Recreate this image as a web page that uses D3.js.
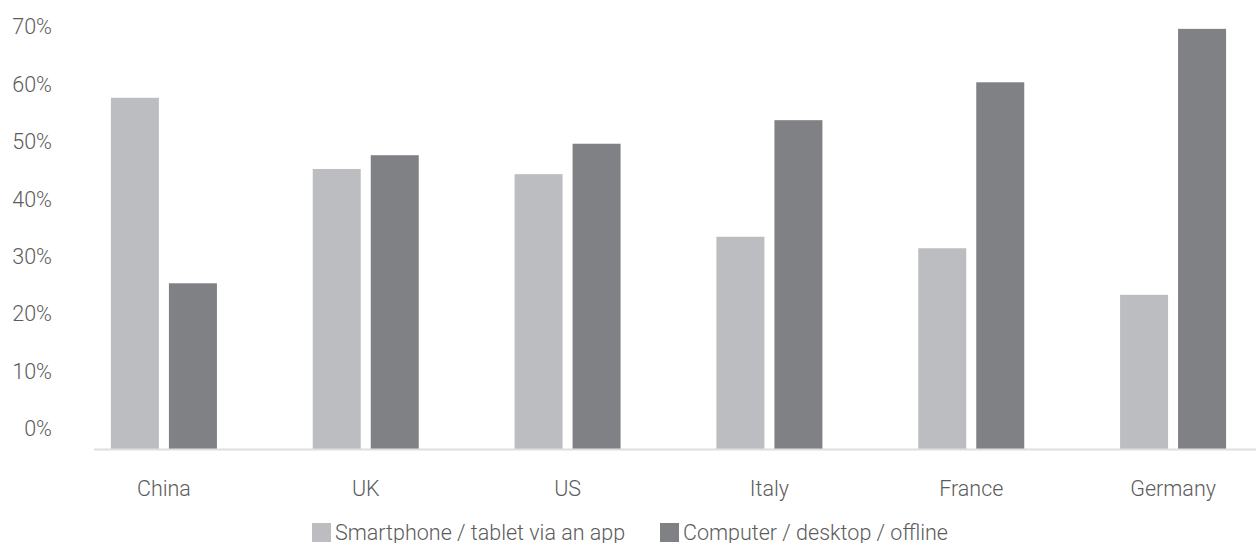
<!DOCTYPE html>
<html>
<head>
<meta charset="utf-8">
<script src="https://cdn.jsdelivr.net/npm/d3@7"></script>
<style>
  html, body { margin: 0; padding: 0; background: #fff; }
  svg { display: block; }
  text { font-family: Roboto, "Noto Sans", sans-serif; font-weight: 300; fill: #5c5c5c; }
</style>
</head>
<body>
<div id="chart"></div>
<script>
// Share of purchases by device, per country
const categories = ["China", "UK", "US", "Italy", "France", "Germany"];
const seriesNames = ["Smartphone / tablet via an app", "Computer / desktop / offline"];
const smartphone = [57.5, 45.1, 44.2, 33.3, 31.3, 23.2];
const computer   = [25.2, 47.5, 49.5, 53.6, 60.2, 69.5];
const tickValues = [0, 10, 20, 30, 40, 50, 60, 70];
const colors = ["#bcbdc0", "#808184"];

const W = 1256, H = 543;
const FONT = "21.5px";
const svg = d3.select("#chart").append("svg")
  .attr("width", W).attr("height", H);

// value -> vertical position (tick label rows)
const y = d3.scaleLinear().domain([0, 70]).range([428, 26]);
const baseY = 449.5; // category axis line

const x0 = d3.scaleBand().domain(categories).range([63, 1274]);
const barW = 48, gap = 10;
const x1 = d3.scaleOrdinal().domain([0, 1]).range([-(barW + gap / 2), gap / 2]);

// y tick labels
const yAxis = d3.axisLeft(y)
  .tickValues(tickValues)
  .tickFormat(d => d + "%")
  .tickSize(0)
  .tickPadding(0);
const gy = svg.append("g").attr("transform", "translate(52,0)").call(yAxis);
gy.select(".domain").remove();
gy.selectAll("text")
  .attr("dy", "0.36em")
  .style("font-size", FONT)
  .style("font-family", "Roboto, sans-serif")
  .attr("fill", "#5c5c5c");

// bars
const rows = categories.map((c, i) => ({ c, vals: [smartphone[i], computer[i]] }));
const groups = svg.append("g").selectAll("g").data(rows).join("g")
  .attr("transform", d => `translate(${x0(d.c) + x0.bandwidth() / 2},0)`);
groups.selectAll("rect").data(d => d.vals.map((v, k) => ({ v, k }))).join("rect")
  .attr("x", d => x1(d.k))
  .attr("y", d => y(d.v))
  .attr("width", barW)
  .attr("height", d => baseY - y(d.v))
  .attr("fill", d => colors[d.k]);

// category axis
svg.append("line")
  .attr("x1", 94).attr("x2", W)
  .attr("y1", baseY).attr("y2", baseY)
  .attr("stroke", "#dedede").attr("stroke-width", 2);

const xAxis = d3.axisBottom(x0).tickSize(0).tickPadding(0);
const gx = svg.append("g").attr("transform", "translate(0,496)").call(xAxis);
gx.select(".domain").remove();
gx.selectAll("text")
  .attr("dy", 0)
  .attr("y", 0)
  .style("font-size", FONT)
  .style("font-family", "Roboto, sans-serif")
  .attr("fill", "#5c5c5c");

// legend
const legend = svg.append("g").attr("transform", "translate(312,523)");
const offsets = [0, 348];
seriesNames.forEach((name, k) => {
  const g = legend.append("g").attr("transform", `translate(${offsets[k]},0)`);
  g.append("rect").attr("width", 19).attr("height", 19).attr("fill", colors[k]);
  g.append("text").attr("x", 23).attr("y", 17)
    .style("font-size", FONT).text(name);
});
</script>
</body>
</html>
